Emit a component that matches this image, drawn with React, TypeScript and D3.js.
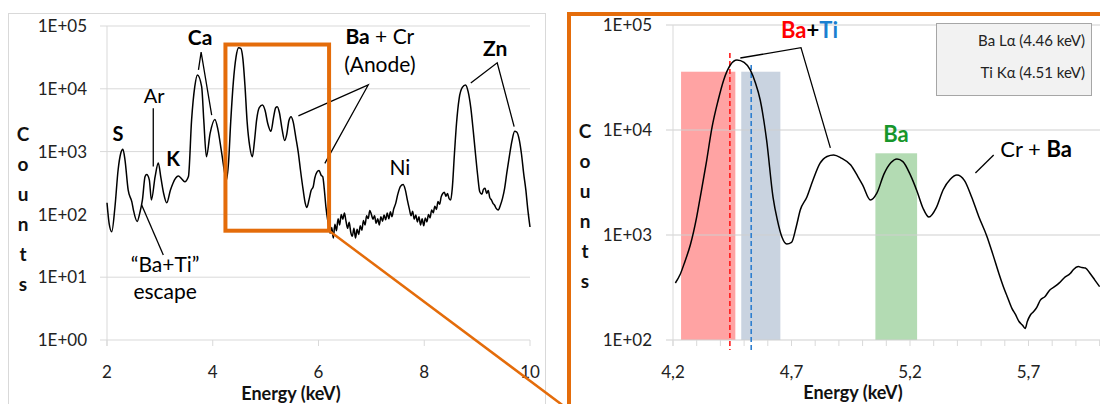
import React from "react";
import * as d3 from "d3";

// full spectrum (left panel)
const leftEnergy = [
  2.0, 2.04, 2.09, 2.15, 2.21, 2.26, 2.3, 2.34, 2.4, 2.47, 2.5, 2.57, 2.62, 2.67, 2.72, 2.75, 2.8, 2.84, 2.91, 2.97,
  3.02, 3.07, 3.13, 3.2, 3.25, 3.3, 3.35, 3.41, 3.47, 3.54, 3.6, 3.66, 3.71, 3.79, 3.83, 3.88, 3.95, 4.04, 4.1, 4.17,
  4.26, 4.3, 4.34, 4.39, 4.44, 4.49, 4.53, 4.57, 4.61, 4.65, 4.7, 4.75, 4.79, 4.83, 4.88, 4.94, 4.99, 5.04, 5.1, 5.15,
  5.19, 5.22, 5.26, 5.31, 5.36, 5.4, 5.44, 5.48, 5.52, 5.57, 5.62, 5.66, 5.71, 5.75, 5.78, 5.82, 5.86, 5.9, 5.93, 5.97,
  6.01, 6.05, 6.08, 6.11, 6.14, 6.18, 6.22, 6.25, 6.28, 6.31, 6.34, 6.37, 6.4, 6.43, 6.46, 6.49, 6.52, 6.55, 6.58, 6.61,
  6.64, 6.67, 6.7, 6.73, 6.76, 6.79, 6.82, 6.85, 6.88, 6.91, 6.94, 6.97, 7.0, 7.03, 7.06, 7.09, 7.12, 7.15, 7.18, 7.21,
  7.24, 7.27, 7.3, 7.33, 7.36, 7.39, 7.42, 7.46, 7.5, 7.55, 7.6, 7.64, 7.68, 7.72, 7.75, 7.78, 7.81, 7.84, 7.87, 7.9,
  7.93, 7.96, 7.99, 8.02, 8.05, 8.08, 8.11, 8.14, 8.17, 8.2, 8.23, 8.26, 8.29, 8.32, 8.35, 8.38, 8.41, 8.44, 8.47, 8.5,
  8.53, 8.57, 8.61, 8.66, 8.72, 8.78, 8.83, 8.88, 8.93, 8.97, 9.01, 9.05, 9.09, 9.12, 9.15, 9.18, 9.21, 9.24, 9.27, 9.3,
  9.33, 9.36, 9.4, 9.44, 9.48, 9.52, 9.56, 9.61, 9.66, 9.71, 9.75, 9.8, 9.84, 9.88, 9.92, 9.96, 10.0,
];
const leftCounts = [
  153, 72, 53, 130, 510, 940, 1090, 740, 245, 158, 117, 77, 105, 170, 400, 430, 355, 170, 400, 660,
  380, 218, 153, 245, 317, 380, 407, 370, 330, 400, 3200, 10800, 16600, 10800, 3200, 830, 1950, 3250, 2200, 940,
  355, 700, 3000, 13000, 32000, 45000, 44000, 30000, 11000, 3000, 1200, 830, 1500, 3200, 5000, 5500, 4500, 2800, 2100, 3500,
  5000, 5200, 4200, 2300, 1500, 1900, 3100, 3600, 3000, 1700, 940, 500, 245, 150, 129, 170, 240, 275, 380, 470,
  500, 420, 400, 250, 132, 75, 50, 62, 42, 70, 55, 85, 68, 100, 84, 105, 78, 60, 75, 52,
  45, 60, 42, 58, 48, 66, 56, 80, 68, 95, 86, 115, 100, 84, 95, 72, 85, 68, 92, 78,
  98, 82, 105, 85, 110, 92, 120, 150, 210, 280, 300, 250, 170, 120, 95, 112, 84, 98, 76, 92,
  68, 85, 66, 88, 76, 100, 88, 118, 106, 135, 120, 160, 145, 190, 215, 225, 195, 215, 178, 170,
  260, 900, 2800, 7000, 10500, 11500, 9000, 5000, 2000, 900, 420, 230, 210, 250, 260, 215, 240, 185, 170, 150,
  140, 125, 117, 140, 180, 260, 450, 850, 1500, 2100, 2050, 1500, 900, 450, 250, 117, 63,
];

// zoomed spectrum (right panel)
const zoomEnergy = [
  4.21, 4.23, 4.25, 4.273, 4.3, 4.315, 4.34, 4.365, 4.39, 4.414, 4.442, 4.47, 4.5, 4.526, 4.548, 4.568, 4.595, 4.622,
  4.64, 4.66, 4.68, 4.7, 4.72, 4.737, 4.765, 4.79, 4.82, 4.85, 4.878, 4.91, 4.95, 4.98, 5.0, 5.033, 5.06, 5.09, 5.12,
  5.145, 5.17, 5.2, 5.23, 5.255, 5.28, 5.31, 5.34, 5.37, 5.398, 5.43, 5.46, 5.49, 5.525, 5.55, 5.575, 5.594, 5.61,
  5.63, 5.645, 5.66, 5.675, 5.686, 5.695, 5.708, 5.72, 5.735, 5.75, 5.77, 5.79, 5.81, 5.83, 5.85, 5.877, 5.89, 5.91,
  5.925, 5.94, 5.96, 5.98, 6.0,
];
const zoomCounts = [
  349, 420, 557, 803, 1490, 2300, 4800, 10700, 19000, 30000, 41600, 46400, 44000, 37300, 28000, 19300, 8000, 2300,
  1400, 950, 820, 850, 1200, 1730, 2300, 3300, 4800, 5600, 5780, 5400, 4640, 3600, 3000, 2150, 2500, 3800, 4900,
  5300, 5000, 3800, 2600, 1800, 1480, 1800, 2700, 3400, 3730, 3300, 2300, 1500, 964, 650, 430, 322, 260,
  200, 175, 150, 138, 129, 150, 173, 185, 205, 240, 260, 300, 322, 350, 390, 432, 470, 500,
  490, 485, 430, 372, 322,
];

const leftXTicks = [2, 4, 6, 8, 10];
const leftYTicks = [1, 10, 100, 1000, 10000, 100000];
const zoomXLabels = [4.2, 4.7, 5.2, 5.7];
const zoomYTicks = [100, 1000, 10000, 100000];

// highlighted energy windows and line positions (keV)
const bandStart = [4.234, 4.488, 5.054];
const bandEnd = [4.463, 4.653, 5.23];
const bandTop = [35900, 35900, 6000];
const lineEnergy = [4.44, 4.53];
const lineTop = [54000, 41600];
const legendLabels = ["Ba L\u03b1 (4.46 keV)", "Ti K\u03b1 (4.51 keV)"];

const bandColors = ["#ffa3a3", "#c9d3e0", "#b3dbb3"];
const lineColors = ["#ff1a1a", "#2e7fcf"];
const ORANGE = "#e46c0a";
const GRID = "#d9d9d9";
const FONT = "Lato, 'Open Sans', sans-serif";

const fmtExp = (v: number) => `1E+${String(Math.round(Math.log10(v))).padStart(2, "0")}`;
const counts = ["C", "o", "u", "n", "t", "s"];

export default function App() {
  // left panel scales
  const lx = d3.scaleLinear().domain([2, 10]).range([107, 530]);
  const ly = d3.scaleLog().domain([1, 1e5]).range([340, 26]);
  // right panel scales
  const rx = d3.scaleLinear().domain([4.2, 6.0]).range([673, 1099.6]);
  const ry = d3.scaleLog().domain([100, 1e5]).range([340, 25]);

  const leftLine = d3
    .line<[number, number]>()
    .x((d) => lx(d[0]))
    .y((d) => ly(d[1]))
    .curve(d3.curveMonotoneX);
  const rightLine = d3
    .line<[number, number]>()
    .x((d) => rx(d[0]))
    .y((d) => ry(d[1]))
    .curve(d3.curveMonotoneX);

  const leftData = d3.zip(leftEnergy, leftCounts) as [number, number][];
  const zoomData = d3.zip(zoomEnergy, zoomCounts) as [number, number][];

  const lpoly = (pts: [number, number][]) => pts.map((p) => `${lx(p[0])},${ly(p[1])}`).join(" ");
  const rpoly = (pts: [number, number][]) => pts.map((p) => `${rx(p[0])},${ry(p[1])}`).join(" ");

  const minorTicks = d3.range(0, 19).map((i) => 4.2 + i * 0.1);

  return (
    <svg
      width={1100}
      height={404}
      style={{ position: "fixed", left: 0, top: 0, background: "#fff" }}
      fontFamily={FONT}
    >
      {/* ---------- left panel ---------- */}
      <rect x={8.5} y={13.5} width={537} height={420} fill="#fff" stroke={GRID} />
      {leftYTicks.map((t) => (
        <g key={t}>
          <line x1={100} x2={530} y1={ly(t)} y2={ly(t)} stroke={GRID} strokeWidth={1} />
          <text x={87} y={ly(t)} dy="0.36em" textAnchor="end" fontSize={17} fill="#222">
            {fmtExp(t)}
          </text>
        </g>
      ))}
      <line x1={107} x2={107} y1={26} y2={346} stroke={GRID} />
      {leftXTicks.map((t) => (
        <g key={t}>
          <line x1={lx(t)} x2={lx(t)} y1={340} y2={346} stroke={GRID} />
          <text x={lx(t)} y={378} textAnchor="middle" fontSize={17} fill="#222">
            {t}
          </text>
        </g>
      ))}
      <text x={291} y={400} textAnchor="middle" fontSize={18} fontWeight="bold" fill="#111">
        Energy (keV)
      </text>
      {counts.map((c, i) => (
        <text key={i} x={23} y={141 + i * 30} textAnchor="middle" fontSize={19} fontWeight="bold" fill="#111">
          {c}
        </text>
      ))}

      <path d={leftLine(leftData) || ""} fill="none" stroke="#000" strokeWidth={1.5} />

      {/* left annotations */}
      <g fill="#000" fontSize={19}>
        <text x={lx(2.21)} y={ly(1480)} textAnchor="middle" fontWeight="bold" fontSize={20}>S</text>
        <text x={lx(2.89)} y={ly(5900)} textAnchor="middle" fontSize={20}>Ar</text>
        <text x={lx(3.25)} y={ly(590)} textAnchor="middle" fontWeight="bold" fontSize={20}>K</text>
        <text x={lx(3.76)} y={ly(50000)} textAnchor="middle" fontWeight="bold" fontSize={21}>Ca</text>
        <text x={lx(7.16)} y={ly(51000)} textAnchor="middle" fontSize={21}>
          <tspan fontWeight="bold">Ba</tspan> + Cr
        </text>
        <text x={lx(7.16)} y={ly(18600)} textAnchor="middle" fontSize={21}>(Anode)</text>
        <text x={lx(9.34)} y={ly(33300)} textAnchor="middle" fontWeight="bold" fontSize={21}>Zn</text>
        <text x={lx(7.54)} y={ly(425)} textAnchor="middle" fontSize={21}>Ni</text>
        <text x={lx(3.1)} y={ly(12.2)} textAnchor="middle" fontSize={21}>{"\u201cBa+Ti\u201d"}</text>
        <text x={lx(3.1)} y={ly(4.5)} textAnchor="middle" fontSize={21}>escape</text>
      </g>
      <g fill="none" stroke="#000" strokeWidth={1.3}>
        <polyline points={lpoly([[2.875, 4900], [2.875, 580]])} />
        <polyline points={lpoly([[3.73, 20000], [3.78, 38500], [3.98, 3800]])} />
        <polyline points={lpoly([[5.62, 3700], [6.94, 11500], [6.12, 650]])} />
        <polyline points={lpoly([[8.88, 12400], [9.38, 26000], [9.7, 2500]])} />
        <polyline points={lpoly([[2.656, 141], [3.065, 22.6]])} />
      </g>

      {/* zoom box and connector */}
      <rect
        x={lx(4.24)}
        y={ly(50700)}
        width={lx(6.2) - lx(4.24)}
        height={ly(55) - ly(50700)}
        fill="none"
        stroke={ORANGE}
        strokeWidth={4}
      />
      <line x1={lx(6.2)} y1={ly(55)} x2={569} y2={410} stroke={ORANGE} strokeWidth={2.5} />

      {/* ---------- right panel ---------- */}
      <rect x={569} y={14} width={560} height={420} fill="#fff" stroke={ORANGE} strokeWidth={4} />
      {bandStart.map((s, i) => (
        <rect
          key={i}
          x={rx(s)}
          y={ry(bandTop[i])}
          width={rx(bandEnd[i]) - rx(s)}
          height={340 - ry(bandTop[i])}
          fill={bandColors[i]}
        />
      ))}
      {zoomYTicks.map((t) => (
        <g key={t}>
          <line x1={666} x2={1100} y1={ry(t)} y2={ry(t)} stroke="#cfcfcf" strokeWidth={1} />
          <text x={652} y={ry(t)} dy="0.36em" textAnchor="end" fontSize={17} fill="#222">
            {fmtExp(t)}
          </text>
        </g>
      ))}
      <line x1={673} x2={673} y1={25} y2={346} stroke={GRID} />
      {minorTicks.map((t, i) => (
        <line key={i} x1={rx(t)} x2={rx(t)} y1={340} y2={346} stroke={GRID} />
      ))}
      {zoomXLabels.map((t) => (
        <text key={t} x={rx(t)} y={378} textAnchor="middle" fontSize={17} fill="#222">
          {t.toFixed(1).replace(".", ",")}
        </text>
      ))}
      <text x={853} y={399} textAnchor="middle" fontSize={18} fontWeight="bold" fill="#111">
        Energy (keV)
      </text>
      {counts.map((c, i) => (
        <text key={i} x={585} y={138 + i * 30} textAnchor="middle" fontSize={19} fontWeight="bold" fill="#111">
          {c}
        </text>
      ))}

      {lineEnergy.map((e, i) => (
        <line
          key={i}
          x1={rx(e)}
          x2={rx(e)}
          y1={ry(lineTop[i])}
          y2={350}
          stroke={lineColors[i]}
          strokeWidth={1.6}
          strokeDasharray="5 3"
        />
      ))}

      <path d={rightLine(zoomData) || ""} fill="none" stroke="#000" strokeWidth={1.5} />

      {/* right annotations */}
      <text x={rx(4.656)} y={ry(75000)} fontSize={22} fontWeight="bold">
        <tspan fill="#ff0000">Ba</tspan>
        <tspan fill="#000">+</tspan>
        <tspan fill="#1a7fd0">Ti</tspan>
      </text>
      <polyline
        points={rpoly([[4.484, 48500], [4.74, 60800], [4.864, 6750]])}
        fill="none"
        stroke="#000"
        strokeWidth={1.3}
      />
      <text x={rx(5.141)} y={ry(7750)} textAnchor="middle" fontSize={22} fontWeight="bold" fill="#17962b">
        Ba
      </text>
      <text x={rx(5.581)} y={ry(5570)} fontSize={22} fill="#000">
        Cr + <tspan fontWeight="bold">Ba</tspan>
      </text>
      <polyline points={rpoly([[5.476, 3890], [5.553, 5780]])} fill="none" stroke="#000" strokeWidth={1.3} />

      {/* legend */}
      <rect x={936.5} y={23.5} width={155} height={72} fill="#f2f2f2" stroke="#a6a6a6" />
      {legendLabels.map((l, i) => (
        <text key={i} x={1085} y={46 + i * 32} textAnchor="end" fontSize={15} fill="#222">
          {l}
        </text>
      ))}
    </svg>
  );
}
